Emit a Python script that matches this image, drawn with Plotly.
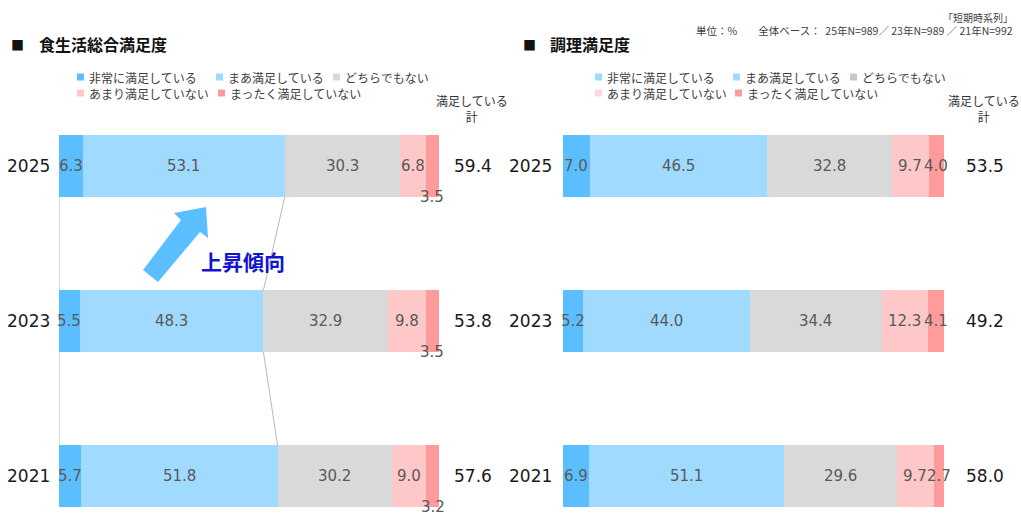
import plotly.graph_objects as go

# ---------------- data ----------------
years = ["2025", "2023", "2021"]
categories = ["非常に満足している", "まあ満足している", "どちらでもない",
              "あまり満足していない", "まったく満足していない"]

left_title = "食生活総合満足度"
right_title = "調理満足度"

left_very = [6.3, 5.5, 5.7]
left_some = [53.1, 48.3, 51.8]
left_neutral = [30.3, 32.9, 30.2]
left_not_much = [6.8, 9.8, 9.0]
left_not_at_all = [3.5, 3.5, 3.2]
left_total = ["59.4", "53.8", "57.6"]

right_very = [7.0, 5.2, 6.9]
right_some = [46.5, 44.0, 51.1]
right_neutral = [32.8, 34.4, 29.6]
right_not_much = [9.7, 12.3, 9.7]
right_not_at_all = [4.0, 4.1, 2.7]
right_total = ["53.5", "49.2", "58.0"]

total_header = "満足している<br>計"
trend_label = "上昇傾向"
note_series = "「短期時系列」"
note_base = "単位：%　　全体ベース：  25年N=989／ 23年N=989 ／ 21年N=992"

# ---------------- style ----------------
W, H = 1021, 516
colors = ["#5BBFFF", "#A0DAFF", "#D9D9D9", "#FFC8C8", "#FF9B9B"]
right_legend_colors = ["#A0DAFF", "#A0DAFF", "#C8C8C8", "#FFDADA", "#FF9B9B"]
JP = "Noto Sans CJK JP"
NUM = "DejaVu Sans"
BAR_W = 0.4

def px_x(p):
    return p / W

def px_y(p):
    return 1 - p / H

left_series = [left_very, left_some, left_neutral, left_not_much, left_not_at_all]
right_series = [right_very, right_some, right_neutral, right_not_much, right_not_at_all]
ypos = list(range(len(years)))

fig = go.Figure()
for series, xa in ((left_series, "x"), (right_series, "x2")):
    for k, vals in enumerate(series):
        fig.add_trace(go.Bar(
            y=ypos, x=vals, orientation="h", xaxis=xa, yaxis="y",
            marker=dict(color=colors[k], line=dict(width=0)),
            width=BAR_W, showlegend=False, hoverinfo="skip",
        ))

annotations = []
shapes = []

def ann(**kw):
    kw.setdefault("showarrow", False)
    kw.setdefault("xanchor", "center")
    kw.setdefault("yanchor", "middle")
    annotations.append(kw)

def add_bar_labels(series, xref, below_last):
    for i in ypos:
        cum = 0.0
        for k, vals in enumerate(series):
            v = vals[i]
            mid = cum + v / 2
            cum += v
            yy = i
            if below_last and k == len(series) - 1:
                yy = i + BAR_W / 2
            ann(x=mid, y=yy, xref=xref, yref="y", text=f"{v:.1f}",
                font=dict(family=NUM, size=15, color="#595959"))

add_bar_labels(left_series, "x", True)
add_bar_labels(right_series, "x2", False)

# year labels and totals
for i, yr in enumerate(years):
    for xc in (28, 530):
        ann(x=px_x(xc), y=i, xref="paper", yref="y", text=yr,
            font=dict(family=NUM, size=17, color="#1a1a1a"))
    ann(x=px_x(473), y=i, xref="paper", yref="y", text=left_total[i],
        font=dict(family=NUM, size=17, color="#1a1a1a"))
    ann(x=px_x(985), y=i, xref="paper", yref="y", text=right_total[i],
        font=dict(family=NUM, size=17, color="#1a1a1a"))

# total headers
for xc in (472, 984):
    ann(x=px_x(xc), y=px_y(108), xref="paper", yref="paper", text=total_header,
        font=dict(family=JP, size=12, color="#333333"))

# titles
for sq_x, tx, title in ((17, 37, left_title), (529, 548, right_title)):
    ann(x=px_x(sq_x), y=px_y(44), xref="paper", yref="paper",
        text="■", font=dict(family=JP, size=13, color="#111111"))
    ann(x=px_x(tx), y=px_y(44), xref="paper", yref="paper", xanchor="left",
        text=f"<b>{title}</b>", font=dict(family=JP, size=16, color="#111111"))

# notes top right
ann(x=px_x(1015), y=px_y(17), xref="paper", yref="paper", xanchor="right",
    text=note_series, font=dict(family=JP, size=10, color="#404040"))
ann(x=px_x(1015), y=px_y(31), xref="paper", yref="paper", xanchor="right",
    text=note_base, font=dict(family=JP, size=10.5, color="#404040"))

# legends
left_leg_pos = [(77, 77), (216, 77), (333, 77), (77, 93), (218, 93)]
right_leg_pos = [(595, 77), (733, 77), (850, 77), (595, 93), (735, 93)]
for pos, cols in ((left_leg_pos, colors), (right_leg_pos, right_legend_colors)):
    for k, (lx, ly) in enumerate(pos):
        shapes.append(dict(type="rect", xref="paper", yref="paper",
                           x0=px_x(lx), x1=px_x(lx + 7), y0=px_y(ly + 3.5), y1=px_y(ly - 3.5),
                           fillcolor=cols[k], line=dict(width=0)))
        ann(x=px_x(lx + 10), y=px_y(ly), xref="paper", yref="paper", xanchor="left",
            text=categories[k], font=dict(family=JP, size=12, color="#404040"))

# connector lines (left chart)
left_top2 = [a + b for a, b in zip(left_very, left_some)]
for i in range(len(years) - 1):
    shapes.append(dict(type="line", xref="x", yref="y", x0=0, x1=0,
                       y0=i + BAR_W / 2, y1=i + 1 - BAR_W / 2,
                       line=dict(color="#A6A6A6", width=0.8)))
    shapes.append(dict(type="line", xref="x", yref="y", x0=left_top2[i], x1=left_top2[i + 1],
                       y0=i + BAR_W / 2, y1=i + 1 - BAR_W / 2,
                       line=dict(color="#A6A6A6", width=0.8)))

# trend arrow
arrow_pts = [(143, 270), (181, 220), (174, 213), (206, 207), (208, 238), (200, 232), (158, 282)]
path = "M " + " L ".join(f"{px_x(x):.5f},{px_y(y):.5f}" for x, y in arrow_pts) + " Z"
shapes.append(dict(type="path", xref="paper", yref="paper", path=path,
                   fillcolor="#5BBFFF", line=dict(width=0)))
ann(x=px_x(243), y=px_y(261), xref="paper", yref="paper",
    text=f"<b>{trend_label}</b>", font=dict(family=JP, size=21, color="#1414CC"))

axis_common = dict(range=[0, 100], showgrid=False, zeroline=False, showticklabels=False,
                   showline=False, fixedrange=True)
fig.update_layout(
    width=W, height=H, barmode="stack", bargap=0,
    margin=dict(l=0, r=0, t=0, b=0, autoexpand=False),
    paper_bgcolor="white", plot_bgcolor="rgba(0,0,0,0)",
    xaxis=dict(domain=[59 / W, 439 / W], anchor="y", **axis_common),
    xaxis2=dict(domain=[563 / W, 944 / W], anchor="y", **axis_common),
    yaxis=dict(domain=[0, 416 / H], range=[2.258, -0.426], showgrid=False, zeroline=False,
               showticklabels=False, showline=False, fixedrange=True),
    annotations=annotations, shapes=shapes, showlegend=False,
)

fig.write_html("out.html", config={"displayModeBar": False},
               post_script="document.body.style.margin='0';document.body.style.overflow='hidden';")
